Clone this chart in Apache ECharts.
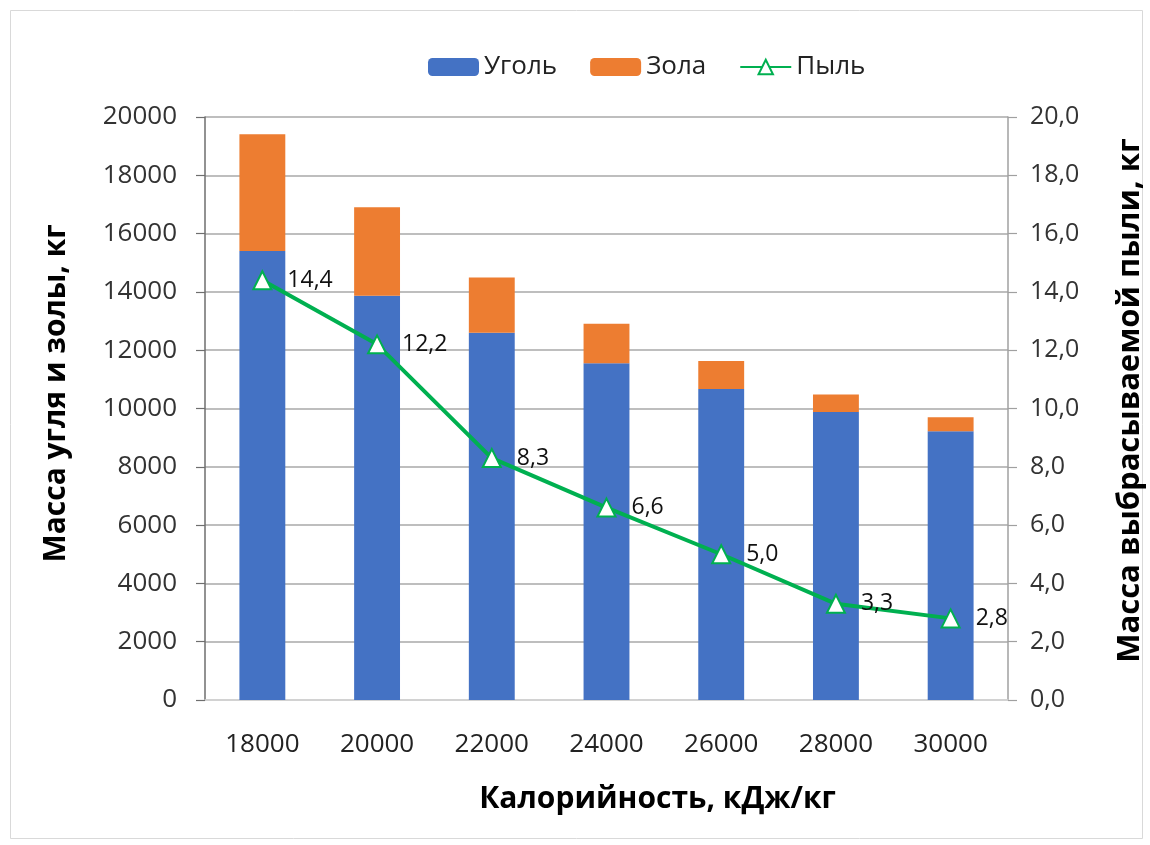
<!DOCTYPE html>
<html>
<head>
<meta charset="utf-8">
<script src="https://cdn.jsdelivr.net/npm/echarts@6/dist/echarts.min.js"></script>
<style>
  html, body { margin: 0; padding: 0; background: #ffffff; }
  #chart { width: 1150px; height: 845px; }
</style>
</head>
<body>
<div id="chart"></div>
<script>
// Calorific value of the fuel, kJ/kg
const categories = ['18000', '20000', '22000', '24000', '26000', '28000', '30000'];
// Coal mass, kg
const coal = [15400, 13870, 12600, 11550, 10670, 9880, 9220];
// Ash mass, kg (stacked on top of coal)
const ash = [4010, 3030, 1890, 1360, 960, 600, 480];
// Emitted dust mass, kg
const dust = [14.4, 12.2, 8.3, 6.6, 5.0, 3.3, 2.8];

const FONT = '"Open Sans", "DejaVu Sans", sans-serif';
const comma1 = v => Number(v).toFixed(1).replace('.', ',');

const chart = echarts.init(document.getElementById('chart'), null, { renderer: 'canvas' });

chart.setOption({
  animation: false,
  backgroundColor: '#ffffff',
  textStyle: { fontFamily: FONT },
  graphic: [{
    type: 'rect',
    shape: { x: 10.5, y: 10.5, width: 1132, height: 828 },
    style: { fill: 'none', stroke: '#d9d9d9', lineWidth: 1 },
    silent: true
  }],
  legend: {
    left: 423,
    top: 49,
    itemWidth: 51,
    itemHeight: 18,
    itemGap: 33,
    textStyle: { fontSize: 26, color: '#222222', fontFamily: FONT },
    data: ['Уголь', 'Зола', 'Пыль']
  },
  grid: { left: 205, right: 142, top: 117, bottom: 145, containLabel: false, outerBoundsMode: 'none' },
  xAxis: {
    type: 'category',
    data: categories,
    name: 'Калорийность, кДж/кг',
    nameLocation: 'middle',
    nameGap: 84,
    nameTextStyle: { fontSize: 30, fontWeight: 'bold', color: '#000000', fontFamily: FONT, padding: [0, 0, 0, 102] },
    axisLine: { lineStyle: { color: '#d9d9d9', width: 1.5 } },
    axisTick: { show: false },
    axisLabel: { margin: 32, fontSize: 26, color: '#222222', fontFamily: FONT }
  },
  yAxis: [{
    type: 'value',
    min: 0, max: 20000, interval: 2000,
    name: 'Масса угля и золы, кг',
    nameLocation: 'middle',
    nameGap: 134,
    nameRotate: 90,
    nameTextStyle: { fontSize: 30, fontWeight: 'bold', color: '#000000', fontFamily: FONT, padding: [0, 0, 0, 30] },
    axisLine: { show: true, lineStyle: { color: '#6e6e6e', width: 1.5 } },
    axisTick: { show: true, inside: false, length: 9, lineStyle: { color: '#6e6e6e', width: 1.2 } },
    axisLabel: { margin: 28, fontSize: 26, color: '#333333', fontFamily: FONT, formatter: v => String(v) },
    splitLine: { show: true, lineStyle: { color: '#a8a8a8', width: 1.5 } }
  }, {
    type: 'value',
    min: 0, max: 20, interval: 2,
    position: 'right',
    name: 'Масса выбрасываемой пыли, кг',
    nameLocation: 'middle',
    nameGap: 107,
    nameRotate: 90,
    nameTextStyle: { fontSize: 31, fontWeight: 'bold', color: '#000000', fontFamily: FONT, padding: [0, 0, 0, 16] },
    axisLine: { show: true, lineStyle: { color: '#a0a0a0', width: 1.5 } },
    axisTick: { show: true, inside: false, length: 9, lineStyle: { color: '#a0a0a0', width: 1.2 } },
    axisLabel: { margin: 22, fontSize: 25, color: '#333333', fontFamily: FONT, formatter: comma1 },
    splitLine: { show: false }
  }],
  series: [{
    name: 'Уголь',
    type: 'bar',
    stack: 'mass',
    barWidth: '40%',
    itemStyle: { color: '#4472C4' },
    data: coal
  }, {
    name: 'Зола',
    type: 'bar',
    stack: 'mass',
    barWidth: '40%',
    itemStyle: { color: '#ED7D31' },
    data: ash
  }, {
    name: 'Пыль',
    type: 'line',
    yAxisIndex: 1,
    symbol: 'triangle',
    symbolSize: 18,
    lineStyle: { color: '#00B050', width: 4 },
    itemStyle: { color: '#ffffff', borderColor: '#00B050', borderWidth: 2 },
    label: {
      show: true,
      position: 'right',
      distance: 15,
      fontSize: 23,
      color: '#111111',
      fontFamily: FONT,
      formatter: p => comma1(p.value)
    },
    z: 5,
    data: dust
  }]
});
</script>
</body>
</html>
